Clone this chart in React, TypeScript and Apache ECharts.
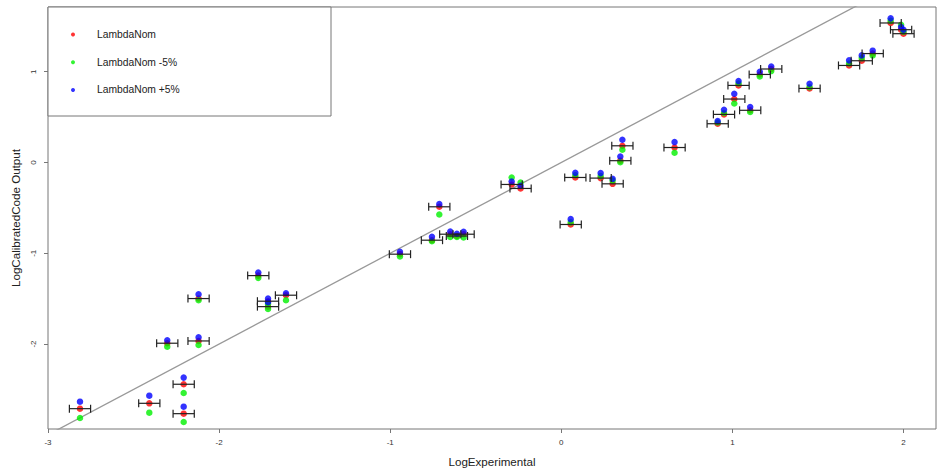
import React, { useEffect, useRef } from "react";
import * as echarts from "echarts";

// Experimental values (log), one per measured case
const logExperimental = [
  -2.813, -2.408, -2.207, -2.207, -2.303, -2.12, -2.12, -1.771, -1.714, -1.714,
  -1.609, -0.943, -0.756, -0.713, -0.649, -0.61, -0.571, -0.29, -0.238, 0.055,
  0.082, 0.23, 0.3, 0.345, 0.357, 0.662, 0.914, 0.951, 1.011, 1.036,
  1.104, 1.16, 1.227, 1.451, 1.682, 1.756, 1.82, 1.925, 1.986, 2.0,
];
// Calibrated code output, nominal lambda
const lambdaNom = [
  -2.712, -2.653, -2.443, -2.767, -1.991, -1.966, -1.499, -1.246, -1.528, -1.588,
  -1.462, -1.01, -0.856, -0.488, -0.79, -0.81, -0.79, -0.242, -0.286, -0.683,
  -0.165, -0.172, -0.235, 0.02, 0.184, 0.165, 0.427, 0.53, 0.699, 0.849,
  0.575, 0.97, 1.03, 0.816, 1.069, 1.121, 1.2, 1.537, 1.463, 1.419,
];
// Calibrated code output, lambda -5%
const lambdaMinus5 = [
  -2.815, -2.756, -2.539, -2.859, -2.029, -2.01, -1.517, -1.271, -1.56, -1.613,
  -1.517, -1.036, -0.867, -0.573, -0.82, -0.82, -0.825, -0.165, -0.22, -0.66,
  -0.14, -0.15, -0.2, 0.004, 0.14, 0.107, 0.44, 0.545, 0.65, 0.87,
  0.556, 0.948, 1.007, 0.83, 1.09, 1.15, 1.18, 1.56, 1.518, 1.44,
];
// Calibrated code output, lambda +5%
const lambdaPlus5 = [
  -2.635, -2.569, -2.37, -2.69, -1.958, -1.925, -1.451, -1.213, -1.5, -1.54,
  -1.44, -0.985, -0.819, -0.459, -0.76, -0.785, -0.764, -0.209, -0.257, -0.624,
  -0.114, -0.117, -0.18, 0.066, 0.25, 0.225, 0.456, 0.581, 0.757, 0.897,
  0.611, 1.0, 1.058, 0.868, 1.125, 1.18, 1.232, 1.588, 1.493, 1.463,
];
// Horizontal uncertainty of the experimental values (log units)
const xError = 0.062;

const xTicks = [-3, -2, -1, 0, 1, 2];
const yTicks = [-2, -1, 0, 1];
const identityLine = [[-3.5, -3.5], [2.5, 2.5]];

const seriesNames = ["LambdaNom", "LambdaNom -5%", "LambdaNom +5%"];

const FONT = "'Liberation Sans', Arial, Helvetica, sans-serif";

export default function App() {
  const ref = useRef<HTMLDivElement>(null);

  useEffect(() => {
    if (!ref.current) return;
    const chart = echarts.init(ref.current, undefined, { renderer: "svg" });

    const pts = (ys: number[]) => logExperimental.map((x, i) => [x, ys[i]]);

    const option: any = {
      animation: false,
      backgroundColor: "#ffffff",
      textStyle: { fontFamily: FONT },
      grid: {
        left: 48,
        top: 7,
        width: 888,
        height: 422,
        show: true,
        borderColor: "#777",
        borderWidth: 1,
        backgroundColor: "transparent",
        outerBoundsMode: "none",
        containLabel: false,
      },
      legend: {
        data: seriesNames,
        orient: "vertical",
        left: 71,
        top: 29.5,
        padding: 0,
        itemGap: 17.7,
        itemWidth: 4,
        itemHeight: 4,
        icon: "circle",
        selectedMode: false,
        textStyle: {
          fontFamily: FONT,
          fontSize: 10.3,
          color: "#222",
          padding: [0, 0, 0, 17],
        },
        z: 10,
      },
      graphic: [
        {
          type: "rect",
          z: 5,
          shape: { x: 48, y: 7, width: 283, height: 109 },
          style: { fill: "#ffffff", stroke: "#777", lineWidth: 1 },
        },
      ],
      xAxis: {
        type: "value",
        min: -3,
        max: 2.19,
        name: "LogExperimental",
        nameLocation: "middle",
        nameGap: 26,
        nameTextStyle: { fontFamily: FONT, fontSize: 11.6, color: "#222" },
        axisLine: { show: false, onZero: false },
        axisTick: {
          show: true,
          length: 4,
          customValues: xTicks,
          lineStyle: { color: "#777" },
        },
        axisLabel: {
          customValues: xTicks,
          fontSize: 8,
          color: "#333",
          margin: 9,
          fontFamily: FONT,
        },
        splitLine: { show: false },
      },
      yAxis: {
        type: "value",
        min: -2.936,
        max: 1.713,
        name: "LogCalibratedCode Output",
        nameLocation: "middle",
        nameGap: 27,
        nameRotate: 90,
        nameTextStyle: { fontFamily: FONT, fontSize: 11.6, color: "#222" },
        axisLine: { show: false, onZero: false },
        axisTick: {
          show: true,
          length: 4,
          customValues: yTicks,
          lineStyle: { color: "#777" },
        },
        axisLabel: {
          customValues: yTicks,
          rotate: 90,
          fontSize: 8,
          color: "#333",
          margin: 11,
          fontFamily: FONT,
        },
        splitLine: { show: false },
      },
      series: [
        {
          type: "line",
          data: identityLine,
          showSymbol: false,
          silent: true,
          clip: true,
          lineStyle: { color: "#999", width: 1.3 },
          z: 1,
        },
        {
          name: seriesNames[0],
          type: "scatter",
          data: pts(lambdaNom),
          symbolSize: 6.5,
          itemStyle: { color: "#ff0000" },
          z: 2,
        },
        {
          name: seriesNames[1],
          type: "scatter",
          data: pts(lambdaMinus5),
          symbolSize: 6.5,
          itemStyle: { color: "#00f000" },
          z: 3,
        },
        {
          name: seriesNames[2],
          type: "scatter",
          data: pts(lambdaPlus5),
          symbolSize: 6.5,
          itemStyle: { color: "#0000ff" },
          z: 4,
        },
        {
          type: "custom",
          silent: true,
          z: 6,
          data: pts(lambdaNom),
          encode: { x: 0, y: 1 },
          renderItem: (params: any, api: any) => {
            const x = api.value(0);
            const y = api.value(1);
            const a = api.coord([x - xError, y]);
            const b = api.coord([x + xError, y]);
            const cap = 4;
            const st = { stroke: "#222", lineWidth: 1.2 };
            return {
              type: "group",
              children: [
                { type: "line", shape: { x1: a[0], y1: a[1], x2: b[0], y2: b[1] }, style: st },
                { type: "line", shape: { x1: a[0], y1: a[1] - cap, x2: a[0], y2: a[1] + cap }, style: st },
                { type: "line", shape: { x1: b[0], y1: b[1] - cap, x2: b[0], y2: b[1] + cap }, style: st },
              ],
            };
          },
        },
      ],
    };

    chart.setOption(option);
    return () => chart.dispose();
  }, []);

  return (
    <div
      ref={ref}
      style={{ position: "absolute", left: 0, top: 0, width: 937, height: 468, background: "#fff" }}
    />
  );
}
